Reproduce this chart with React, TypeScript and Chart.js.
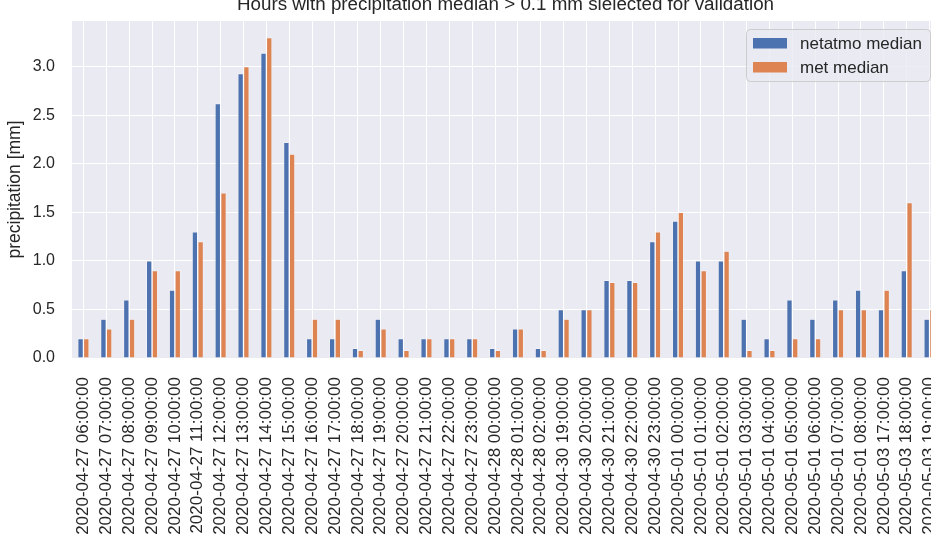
import React, { useEffect, useRef } from "react";
import { Chart, registerables } from "chart.js";

Chart.register(...registerables);

// Hourly timestamps where the median precipitation exceeded 0.1 mm
const hours = [
  "2020-04-27 06:00:00", "2020-04-27 07:00:00", "2020-04-27 08:00:00", "2020-04-27 09:00:00",
  "2020-04-27 10:00:00", "2020-04-27 11:00:00", "2020-04-27 12:00:00", "2020-04-27 13:00:00",
  "2020-04-27 14:00:00", "2020-04-27 15:00:00", "2020-04-27 16:00:00", "2020-04-27 17:00:00",
  "2020-04-27 18:00:00", "2020-04-27 19:00:00", "2020-04-27 20:00:00", "2020-04-27 21:00:00",
  "2020-04-27 22:00:00", "2020-04-27 23:00:00", "2020-04-28 00:00:00", "2020-04-28 01:00:00",
  "2020-04-28 02:00:00", "2020-04-30 19:00:00", "2020-04-30 20:00:00", "2020-04-30 21:00:00",
  "2020-04-30 22:00:00", "2020-04-30 23:00:00", "2020-05-01 00:00:00", "2020-05-01 01:00:00",
  "2020-05-01 02:00:00", "2020-05-01 03:00:00", "2020-05-01 04:00:00", "2020-05-01 05:00:00",
  "2020-05-01 06:00:00", "2020-05-01 07:00:00", "2020-05-01 08:00:00", "2020-05-03 17:00:00",
  "2020-05-03 18:00:00", "2020-05-03 19:00:00",
];

// Median hourly precipitation [mm]
const netatmoMedian = [
  0.2, 0.4, 0.6, 1.0, 0.7, 1.3, 2.62, 2.93, 3.14, 2.22,
  0.2, 0.2, 0.1, 0.4, 0.2, 0.2, 0.2, 0.2, 0.1, 0.3,
  0.1, 0.5, 0.5, 0.8, 0.8, 1.2, 1.41, 1.0, 1.0, 0.4,
  0.2, 0.6, 0.4, 0.6, 0.7, 0.5, 0.9, 0.4,
];
const metMedian = [
  0.2, 0.3, 0.4, 0.9, 0.9, 1.2, 1.7, 3.0, 3.3, 2.1,
  0.4, 0.4, 0.08, 0.3, 0.08, 0.2, 0.2, 0.2, 0.08, 0.3,
  0.08, 0.4, 0.5, 0.78, 0.78, 1.3, 1.5, 0.9, 1.1, 0.08,
  0.08, 0.2, 0.2, 0.5, 0.5, 0.7, 1.6, 0.5,
];

const yTicks = [0, 0.5, 1.0, 1.5, 2.0, 2.5, 3.0];
const yMax = 3.47;

const seriesNames = ["netatmo median", "met median"];
const seriesColors = ["#4C72B0", "#DD8452"];

const TITLE = "Hours with precipitation median > 0.1 mm slelected for validation";
const TEXT = "#262626";
const FONT = "'Liberation Sans', Arial, sans-serif";

const CANVAS_W = 960;
const CANVAS_H = 544;
const PLOT_LEFT = 72;
const PLOT_TOP = 21;
const PLOT_RIGHT = 941;
const PLOT_BOTTOM = 358;

// Grey axes background
const plotBackground = {
  id: "plotBackground",
  beforeDraw(chart: any) {
    const { ctx, chartArea } = chart;
    ctx.save();
    ctx.fillStyle = "#EAEAF2";
    ctx.fillRect(chartArea.left, chartArea.top, chartArea.right - chartArea.left, chartArea.bottom - chartArea.top);
    ctx.restore();
  },
};

// Title above the axes and the legend box in the upper right corner
const overlay = {
  id: "overlay",
  afterDraw(chart: any) {
    const { ctx, chartArea } = chart;
    ctx.save();
    ctx.fillStyle = TEXT;
    ctx.font = `18.8px ${FONT}`;
    ctx.textAlign = "center";
    ctx.textBaseline = "alphabetic";
    ctx.fillText(TITLE, (chartArea.left + chartArea.right) / 2 - 1, 10);

    const boxL = 746.5, boxT = 29.5, boxR = 930.5, boxB = 81.5, r = 4;
    ctx.beginPath();
    ctx.moveTo(boxL + r, boxT);
    ctx.lineTo(boxR - r, boxT);
    ctx.arcTo(boxR, boxT, boxR, boxT + r, r);
    ctx.lineTo(boxR, boxB - r);
    ctx.arcTo(boxR, boxB, boxR - r, boxB, r);
    ctx.lineTo(boxL + r, boxB);
    ctx.arcTo(boxL, boxB, boxL, boxB - r, r);
    ctx.lineTo(boxL, boxT + r);
    ctx.arcTo(boxL, boxT, boxL + r, boxT, r);
    ctx.closePath();
    ctx.fillStyle = "rgba(234,234,242,0.8)";
    ctx.fill();
    ctx.strokeStyle = "#CCCCCC";
    ctx.lineWidth = 1;
    ctx.stroke();

    ctx.font = `17px ${FONT}`;
    ctx.textAlign = "left";
    ctx.textBaseline = "middle";
    chart.data.datasets.forEach((ds: any, i: number) => {
      const cy = 43 + i * 24;
      ctx.fillStyle = ds.backgroundColor;
      ctx.fillRect(753, cy - 5, 34, 10.5);
      ctx.fillStyle = TEXT;
      ctx.fillText(ds.label, 800, cy + 1);
    });
    ctx.restore();
  },
};

export default function App() {
  const canvasRef = useRef<HTMLCanvasElement | null>(null);

  useEffect(() => {
    const canvas = canvasRef.current;
    if (!canvas) return;
    const chart = new Chart(canvas, {
      type: "bar",
      data: {
        labels: hours,
        datasets: [
          {
            label: seriesNames[0],
            data: netatmoMedian,
            backgroundColor: seriesColors[0],
            borderColor: "rgba(255,255,255,0.55)",
            borderWidth: 0.7,
            categoryPercentage: 0.5,
            barPercentage: 1.0,
          },
          {
            label: seriesNames[1],
            data: metMedian,
            backgroundColor: seriesColors[1],
            borderColor: "rgba(255,255,255,0.55)",
            borderWidth: 0.7,
            categoryPercentage: 0.5,
            barPercentage: 1.0,
          },
        ],
      },
      options: {
        responsive: false,
        animation: false,
        devicePixelRatio: 1,
        layout: {
          padding: { top: PLOT_TOP, right: CANVAS_W - PLOT_RIGHT, left: 0, bottom: 0 },
        },
        plugins: {
          legend: { display: false },
          title: { display: false },
          tooltip: { enabled: false },
        },
        scales: {
          x: {
            offset: true,
            grid: { color: "#FFFFFF", lineWidth: 1, offset: false, drawTicks: false },
            border: { display: false },
            ticks: {
              autoSkip: false,
              minRotation: 90,
              maxRotation: 90,
              padding: 19,
              color: TEXT,
              font: { family: FONT, size: 17 },
            },
            afterFit(scale: any) {
              scale.height = CANVAS_H - PLOT_BOTTOM;
              scale.paddingLeft = 0;
              scale.paddingRight = 0;
            },
          },
          y: {
            min: 0,
            max: yMax,
            grid: { color: "#FFFFFF", lineWidth: 1, drawTicks: false },
            border: { display: false },
            afterBuildTicks(scale: any) {
              scale.ticks = yTicks.map((v) => ({ value: v }));
            },
            ticks: {
              padding: 17,
              color: TEXT,
              font: { family: FONT, size: 16 },
              callback: (v: any) => Number(v).toFixed(1),
            },
            title: {
              display: true,
              text: "precipitation [mm]",
              color: TEXT,
              font: { family: FONT, size: 17.5 },
              padding: { top: 5, bottom: 0 },
            },
            afterFit(scale: any) {
              scale.width = PLOT_LEFT;
              scale.paddingTop = 0;
              scale.paddingBottom = 0;
            },
          },
        },
      },
      plugins: [plotBackground, overlay],
    });
    return () => chart.destroy();
  }, []);

  return (
    <div
      style={{
        position: "fixed",
        left: 0,
        top: 0,
        width: 931,
        height: 544,
        overflow: "hidden",
        background: "#FFFFFF",
      }}
    >
      <canvas ref={canvasRef} width={CANVAS_W} height={CANVAS_H} style={{ display: "block" }} />
    </div>
  );
}
